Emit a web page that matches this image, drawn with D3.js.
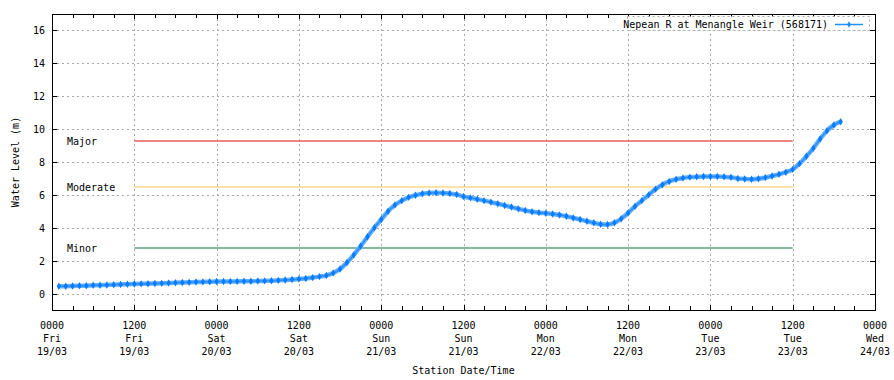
<!DOCTYPE html>
<html><head><meta charset="utf-8">
<script src="https://cdn.jsdelivr.net/npm/d3@7"></script>
<style>
html,body{margin:0;padding:0;background:#fff;}
svg{display:block;font-family:"DejaVu Sans Mono",monospace;}
</style></head>
<body><svg id="c" width="894" height="380"></svg>
<script>
// ---- data ----
const seriesName = "Nepean R at Menangle Weir (568171)";
const startTime = "2021-03-19T01:00:00Z";
// hourly water level (m), first value = 0100 Fri 19/03
const levels = [
 0.45,0.45,0.46,0.47,0.48,0.50,0.51,0.52,0.54,0.55,0.57,0.58,0.59,0.60,0.61,
 0.62,0.64,0.66,0.67,0.68,0.70,0.71,0.72,0.73,0.73,0.74,0.74,0.75,0.75,0.76,0.77,
 0.78,0.80,0.82,0.85,0.88,0.92,0.97,1.03,1.10,1.25,1.49,1.88,2.35,2.88,3.45,4.00,
 4.50,5.00,5.38,5.65,5.85,5.98,6.07,6.12,6.13,6.12,6.08,6.02,5.90,5.82,5.74,5.65,
 5.56,5.46,5.36,5.26,5.15,5.05,4.98,4.92,4.88,4.84,4.78,4.70,4.60,4.50,4.40,4.30,
 4.22,4.20,4.30,4.55,4.90,5.30,5.65,6.00,6.35,6.62,6.82,6.95,7.03,7.08,7.10,7.12,
 7.12,7.12,7.10,7.07,7.00,6.97,6.95,6.98,7.05,7.15,7.25,7.38,7.55,7.90,8.35,8.83,
 9.40,9.90,10.25,10.45
];
const thresholdNames  = ["Major","Moderate","Minor"];
const thresholdValues = [9.3, 6.5, 2.8];
const thresholdColors = ["#e8605f","#fbd98a","#5fa37f"];
const thresholdFrom = "2021-03-19T12:00:00Z";
const thresholdTo   = "2021-03-23T12:00:00Z";
const yTicks = [0,2,4,6,8,10,12,14,16];
const yDomain = [-1, 17];
const xDomain = ["2021-03-19T00:00:00Z","2021-03-24T00:00:00Z"];
const yLabel = "Water Level (m)";
const xLabel = "Station Date/Time";

// ---- layout ----
const L = 52, R = 875, T = 14, B = 310;
const svg = d3.select("#c");
const t0 = new Date(startTime);
const pts = levels.map((v,i)=>({t:new Date(t0.getTime()+i*3600e3), v}));

const x = d3.scaleUtc().domain(xDomain.map(d=>new Date(d))).range([L,R]);
const y = d3.scaleLinear().domain(yDomain).range([B,T]);

const majorX = d3.utcHour.every(12).range(new Date(xDomain[0]), new Date(new Date(xDomain[1]).getTime()+1));
const minorX = d3.utcHour.every(3).range(new Date(xDomain[0]), new Date(new Date(xDomain[1]).getTime()+1));

// grid
const g = svg.append("g");
g.selectAll("line.hg").data(yTicks).join("line")
 .attr("x1",L).attr("x2",R).attr("y1",d=>Math.round(y(d))+0.5).attr("y2",d=>Math.round(y(d))+0.5)
 .attr("stroke","#aaa").attr("stroke-dasharray","2,3").attr("stroke-width",1);
g.selectAll("line.vg").data(majorX.slice(1,-1)).join("line")
 .attr("x1",d=>Math.round(x(d))+0.5).attr("x2",d=>Math.round(x(d))+0.5).attr("y1",T).attr("y2",B)
 .attr("stroke","#aaa").attr("stroke-dasharray","2,3").attr("stroke-width",1);

// threshold lines
const tf = new Date(thresholdFrom), tt = new Date(thresholdTo);
thresholdValues.forEach((v,i)=>{
  svg.append("line").attr("x1",x(tf)).attr("x2",x(tt))
   .attr("y1",Math.round(y(v))).attr("y2",Math.round(y(v)))
   .attr("stroke",thresholdColors[i]).attr("stroke-width",1.6);
  svg.append("text").attr("x",67).attr("y",Math.round(y(v))+4)
   .attr("font-size",10).attr("fill","#000").text(thresholdNames[i]);
});

// axes frame
svg.append("rect").attr("x",L+0.5).attr("y",T+0.5).attr("width",R-L).attr("height",B-T)
 .attr("fill","none").attr("stroke","#000").attr("stroke-width",1);

// y ticks (inward, both sides)
yTicks.forEach(d=>{
  const yy = Math.round(y(d))+0.5;
  svg.append("line").attr("x1",L).attr("x2",L+5).attr("y1",yy).attr("y2",yy).attr("stroke","#000");
  svg.append("line").attr("x1",R-5).attr("x2",R).attr("y1",yy).attr("y2",yy).attr("stroke","#000");
  svg.append("text").attr("x",45).attr("y",yy+3.5).attr("text-anchor","end")
   .attr("font-size",10).text(d);
});
// x ticks
minorX.forEach(d=>{
  const xx = Math.round(x(d))+0.5;
  const len = (d.getUTCHours()%12===0)?5:4;
  svg.append("line").attr("x1",xx).attr("x2",xx).attr("y1",B).attr("y2",B-len).attr("stroke","#000");
  svg.append("line").attr("x1",xx).attr("x2",xx).attr("y1",T).attr("y2",T+len).attr("stroke","#000");
});
const fH = d3.utcFormat("%H%M"), fA = d3.utcFormat("%a"), fD = d3.utcFormat("%d/%m");
majorX.forEach(d=>{
  const xx = x(d);
  const tx = svg.append("text").attr("x",xx).attr("text-anchor","middle").attr("font-size",10);
  [fH(d),fA(d),fD(d)].forEach((s,i)=>{
    tx.append("tspan").attr("x",xx).attr("y",329+i*13).text(s);
  });
});

// axis labels
svg.append("text").attr("x",(L+R)/2).attr("y",374).attr("text-anchor","middle")
 .attr("font-size",10).text(xLabel);
svg.append("text").attr("transform","translate(19,"+((T+B)/2)+") rotate(-90)")
 .attr("text-anchor","middle").attr("font-size",10).text(yLabel);

// series
const line = d3.line().x(d=>x(d.t)).y(d=>y(d.v)).curve(d3.curveMonotoneX);
svg.append("path").datum(pts).attr("d",line).attr("fill","none")
 .attr("stroke","#62b0ff").attr("stroke-width",4.5);
svg.append("path").datum(pts).attr("d",line).attr("fill","none")
 .attr("stroke","#2b8fff").attr("stroke-width",1.5);
svg.selectAll("path.m").data(pts).join("path")
 .attr("d",d3.symbol(d3.symbolDiamond,16))
 .attr("transform",d=>"translate("+x(d.t)+","+y(d.v)+")")
 .attr("fill","#0b7bff");

// legend
svg.append("rect").attr("x",627.5).attr("y",16.5).attr("width",242).attr("height",14)
 .attr("fill","#fff").attr("stroke","#aaa").attr("stroke-dasharray","2,3");
svg.append("text").attr("x",828).attr("y",27.5).attr("text-anchor","end")
 .attr("font-size",10).text(seriesName);
svg.append("line").attr("x1",835).attr("x2",863).attr("y1",24.5).attr("y2",24.5)
 .attr("stroke","#1e8fff").attr("stroke-width",1.5);
svg.append("path").attr("d",d3.symbol(d3.symbolDiamond,12))
 .attr("transform","translate(849,24.5)").attr("fill","#1e8fff");
</script>
</body></html>
